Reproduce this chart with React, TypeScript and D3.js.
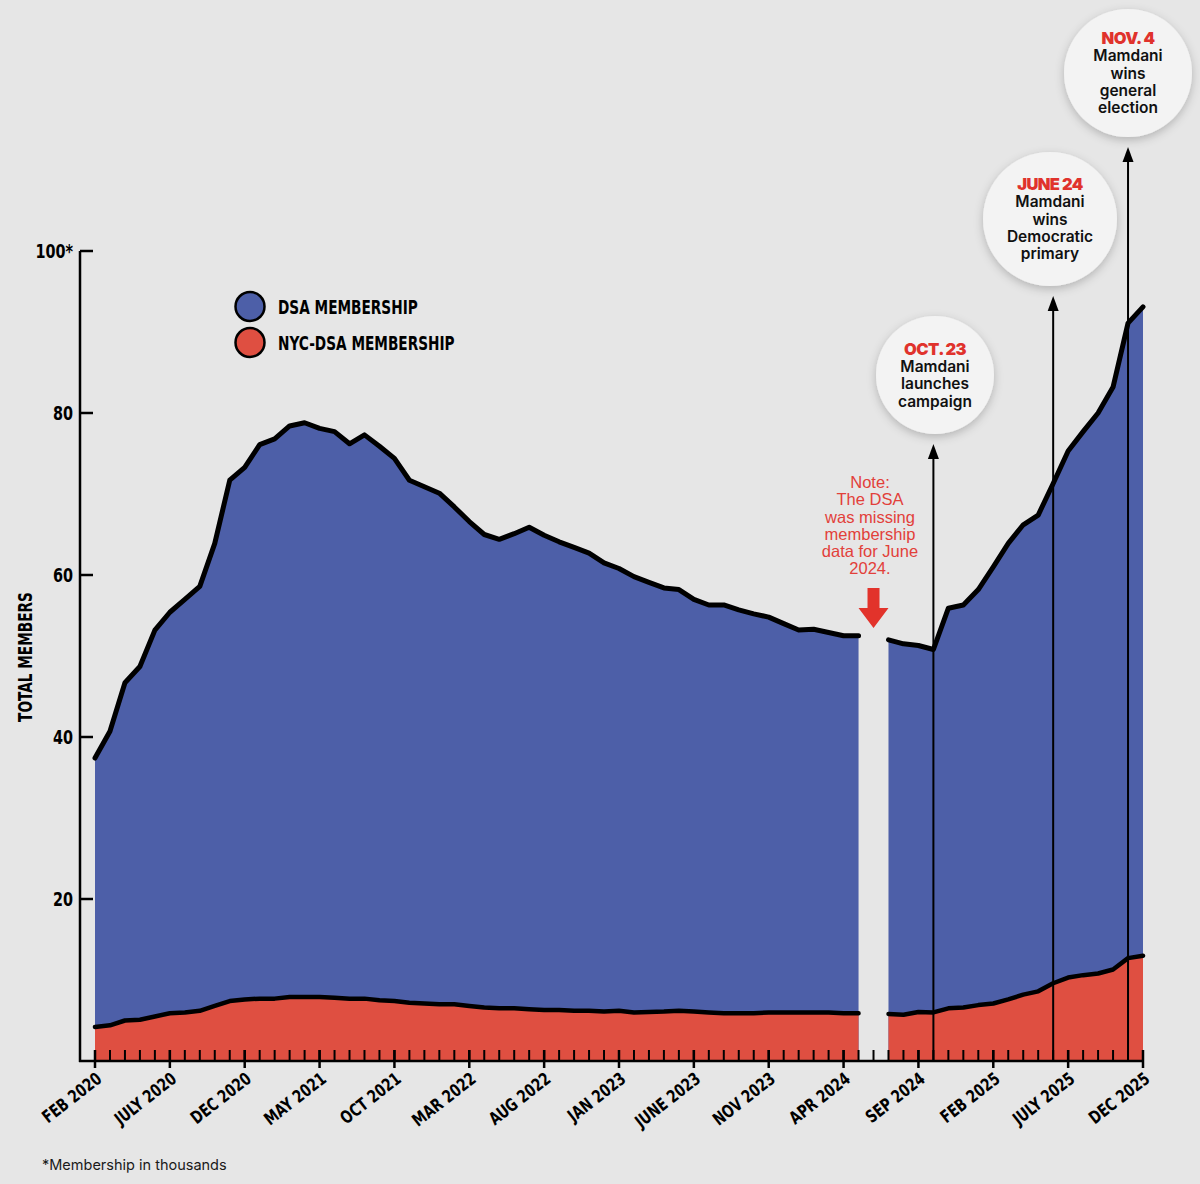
import { useMemo } from 'react'
import * as d3 from 'd3'

// monthly, Feb 2020 .. Dec 2025 (thousands); June 2024 missing
const startYear = 2020
const startMonth = 1 // Feb (0-based)

const dsaMembers: (number | null)[] = [
  37.4, 40.7, 46.7, 48.7, 53.2, 55.4, 57.0, 58.6, 63.9, 71.7, 73.3,
  76.1, 76.8, 78.4, 78.8, 78.1, 77.7, 76.2, 77.3, 75.9, 74.4, 71.7, 70.9,
  70.1, 68.4, 66.6, 65.0, 64.4, 65.1, 65.9, 64.9, 64.1, 63.4, 62.7, 61.5,
  60.8, 59.8, 59.1, 58.4, 58.2, 57.0, 56.3, 56.3, 55.7, 55.2, 54.8, 54.0,
  53.2, 53.3, 52.9, 52.5, 52.5, null, 52.0, 51.5, 51.3, 50.8, 55.9, 56.3,
  58.2, 61.0, 63.9, 66.2, 67.4, 71.3, 75.3, 77.7, 80.0, 83.2, 91.1, 93.1,
]

const nycMembers: (number | null)[] = [
  4.2, 4.4, 5.0, 5.1, 5.5, 5.9, 6.0, 6.2, 6.8, 7.4, 7.6,
  7.7, 7.7, 7.9, 7.9, 7.9, 7.8, 7.7, 7.7, 7.5, 7.4, 7.2, 7.1,
  7.0, 7.0, 6.8, 6.6, 6.5, 6.5, 6.4, 6.3, 6.3, 6.2, 6.2, 6.1,
  6.2, 6.0, 6.05, 6.1, 6.2, 6.1, 6.0, 5.9, 5.9, 5.9, 6.0, 6.0,
  6.0, 6.0, 6.0, 5.9, 5.9, null, 5.8, 5.7, 6.05, 6.0, 6.5, 6.6,
  6.9, 7.1, 7.6, 8.2, 8.6, 9.6, 10.3, 10.6, 10.8, 11.3, 12.7, 13.0,
]

const tickLabels = [
  'FEB 2020', 'JULY 2020', 'DEC 2020', 'MAY 2021', 'OCT 2021', 'MAR 2022', 'AUG 2022', 'JAN 2023',
  'JUNE 2023', 'NOV 2023', 'APR 2024', 'SEP 2024', 'FEB 2025', 'JULY 2025', 'DEC 2025',
]

const yTicks = [20, 40, 60, 80, 100]

const events = [
  { month: '2024-10', date: 'OCT. 23', lines: ['Mamdani', 'launches', 'campaign'] },
  { month: '2025-06', date: 'JUNE 24', lines: ['Mamdani', 'wins', 'Democratic', 'primary'] },
  { month: '2025-11', date: 'NOV. 4', lines: ['Mamdani', 'wins', 'general', 'election'] },
]

const noteLines = ['Note:', 'The DSA', 'was missing', 'membership', 'data for June', '2024.']
const missingMonth = '2024-06'

const months = dsaMembers.map((_, i) => {
  const m = startMonth + i
  return `${startYear + Math.floor(m / 12)}-${String((m % 12) + 1).padStart(2, '0')}`
})

type Row = { key: string; dsa: number | null; nyc: number | null }

const W = 1200
const H = 1184
const BG = '#e6e6e6'
const BLUE = '#4d5fa8'
const RED = '#df4f41'
const NOTE_RED = '#e2403a'
const COND = "'Liberation Sans Narrow', 'DejaVu Sans Condensed', 'Arial Narrow', sans-serif"
const SANS = "Inter, 'Noto Sans', 'Liberation Sans', sans-serif"

// bubble layout for the three events
const bubbles = [
  { cx: 935, cy: 375, r: 59 },
  { cx: 1050, cy: 219, r: 67 },
  { cx: 1128, cy: 73, r: 64 },
]

// bold text squeezed horizontally to mimic the condensed display face
function Cond({
  x,
  y,
  rotate = 0,
  size,
  sx,
  anchor = 'start',
  children,
}: {
  x: number
  y: number
  rotate?: number
  size: number
  sx: number
  anchor?: 'start' | 'middle' | 'end'
  children: React.ReactNode
}) {
  return (
    <text
      transform={`translate(${x},${y}) rotate(${rotate}) scale(${sx},1)`}
      dy="0.36em"
      textAnchor={anchor}
      fontFamily={COND}
      fontWeight={700}
      fontSize={size}
      fill="#000"
    >
      {children}
    </text>
  )
}

export default function App() {
  const rows: Row[] = months.map((key, i) => ({ key, dsa: dsaMembers[i], nyc: nycMembers[i] }))

  const x = useMemo(() => d3.scalePoint<string>().domain(months).range([95, 1143]), [])
  const y = useMemo(() => d3.scaleLinear().domain([0, 100]).range([1061, 251]), [])

  const dsaArea = d3
    .area<Row>()
    .defined((d) => d.dsa != null)
    .x((d) => x(d.key)!)
    .y0(y(0))
    .y1((d) => y(d.dsa!))
  const nycArea = d3
    .area<Row>()
    .defined((d) => d.nyc != null)
    .x((d) => x(d.key)!)
    .y0(y(0))
    .y1((d) => y(d.nyc!))
  const dsaLine = d3
    .line<Row>()
    .defined((d) => d.dsa != null)
    .x((d) => x(d.key)!)
    .y((d) => y(d.dsa!))
  const nycLine = d3
    .line<Row>()
    .defined((d) => d.nyc != null)
    .x((d) => x(d.key)!)
    .y((d) => y(d.nyc!))

  const axisY = y(0)
  const majorMonths = months.filter((_, i) => i % 5 === 0)
  const mx = x(missingMonth)!

  return (
    <svg width={W} height={H} style={{ position: 'absolute', left: 0, top: 0 }}>
      <defs>
        <filter id="shadow" x="-30%" y="-30%" width="160%" height="160%">
          <feDropShadow dx="0" dy="3" stdDeviation="5" floodColor="#000" floodOpacity="0.22" />
        </filter>
      </defs>
      <rect width={W} height={H} fill={BG} />

      {/* areas */}
      <path d={dsaArea(rows) ?? ''} fill={BLUE} />
      <path d={nycArea(rows) ?? ''} fill={RED} />
      <path d={dsaLine(rows) ?? ''} fill="none" stroke="#000" strokeWidth={5} strokeLinejoin="round" strokeLinecap="round" />
      <path d={nycLine(rows) ?? ''} fill="none" stroke="#000" strokeWidth={4.5} strokeLinejoin="round" strokeLinecap="round" />

      {/* event arrows + bubbles */}
      {events.map((e, i) => {
        const b = bubbles[i]
        const ex = x(e.month)!
        const tip = b.cy + b.r + 10
        const n = e.lines.length + 1
        const lh = 17.3
        const first = b.cy - ((n - 1) / 2) * lh
        return (
          <g key={e.month}>
            <line x1={ex} x2={ex} y1={axisY} y2={tip + 10} stroke="#000" strokeWidth={2} />
            <path d={`M${ex},${tip} L${ex - 5.5},${tip + 15} L${ex + 5.5},${tip + 15} Z`} fill="#000" />
            <circle cx={b.cx} cy={b.cy} r={b.r} fill="#f3f3f3" filter="url(#shadow)" />
            <text
              x={b.cx}
              y={first}
              dy="0.36em"
              textAnchor="middle"
              fontFamily={SANS}
              fontWeight={900}
              fontSize={16.5}
              letterSpacing={-0.6}
              fill="#e0322c"
            >
              {e.date}
            </text>
            {e.lines.map((t, j) => (
              <text
                key={j}
                x={b.cx}
                y={first + (j + 1) * lh}
                dy="0.36em"
                textAnchor="middle"
                fontFamily={SANS}
                fontWeight={600}
                fontSize={15.5}
                fill="#111"
              >
                {t}
              </text>
            ))}
          </g>
        )
      })}

      {/* missing data note */}
      {noteLines.map((t, i) => (
        <text
          key={i}
          x={870}
          y={482 + i * 17.3}
          dy="0.36em"
          textAnchor="middle"
          fontFamily="'Liberation Sans', Arial, sans-serif"
          fontSize={16.5}
          fill={NOTE_RED}
        >
          {t}
        </text>
      ))}
      <path
        d={`M${mx - 6},588 L${mx + 6},588 L${mx + 6},608 L${mx + 15},608 L${mx},628 L${mx - 15},608 L${mx - 6},608 Z`}
        fill="#e2332b"
      />

      {/* axes */}
      <line x1={80} x2={80} y1={251} y2={axisY + 1} stroke="#000" strokeWidth={2.5} />
      <line x1={79} x2={x(months[months.length - 1])! + 1} y1={axisY} y2={axisY} stroke="#000" strokeWidth={2.5} />
      {yTicks.map((t) => (
        <g key={t}>
          <line x1={80} x2={93} y1={y(t)} y2={y(t)} stroke="#000" strokeWidth={2.5} />
          <Cond x={73} y={y(t)} size={20} sx={0.8} anchor="end">
            {t === 100 ? '100*' : t}
          </Cond>
        </g>
      ))}
      {months.map((m) => (
        <line key={m} x1={x(m)} x2={x(m)} y1={axisY - 11} y2={axisY} stroke="#000" strokeWidth={2} />
      ))}
      {majorMonths.map((m, i) => {
        const tx = x(m)!
        return (
          <g key={m}>
            <line x1={tx} x2={tx} y1={axisY - 11} y2={axisY + 7} stroke="#000" strokeWidth={2.5} />
            <Cond x={tx + 4} y={axisY + 15} rotate={-38} size={17.5} sx={0.84} anchor="end">
              {tickLabels[i]}
            </Cond>
          </g>
        )
      })}

      <Cond x={25} y={657} rotate={-90} size={20} sx={0.76} anchor="middle">
        TOTAL MEMBERS
      </Cond>

      {/* legend */}
      {[
        { label: 'DSA MEMBERSHIP', color: BLUE, cy: 306.5 },
        { label: 'NYC-DSA MEMBERSHIP', color: RED, cy: 342.5 },
      ].map((l) => (
        <g key={l.label}>
          <circle cx={250} cy={l.cy} r={14.5} fill={l.color} stroke="#000" strokeWidth={2.5} />
          <Cond x={278} y={l.cy} size={19.5} sx={0.78}>
            {l.label}
          </Cond>
        </g>
      ))}

      <text x={42} y={1170} fontFamily={SANS} fontSize={14.5} fill="#1a1a1a">
        *Membership in thousands
      </text>
    </svg>
  )
}
